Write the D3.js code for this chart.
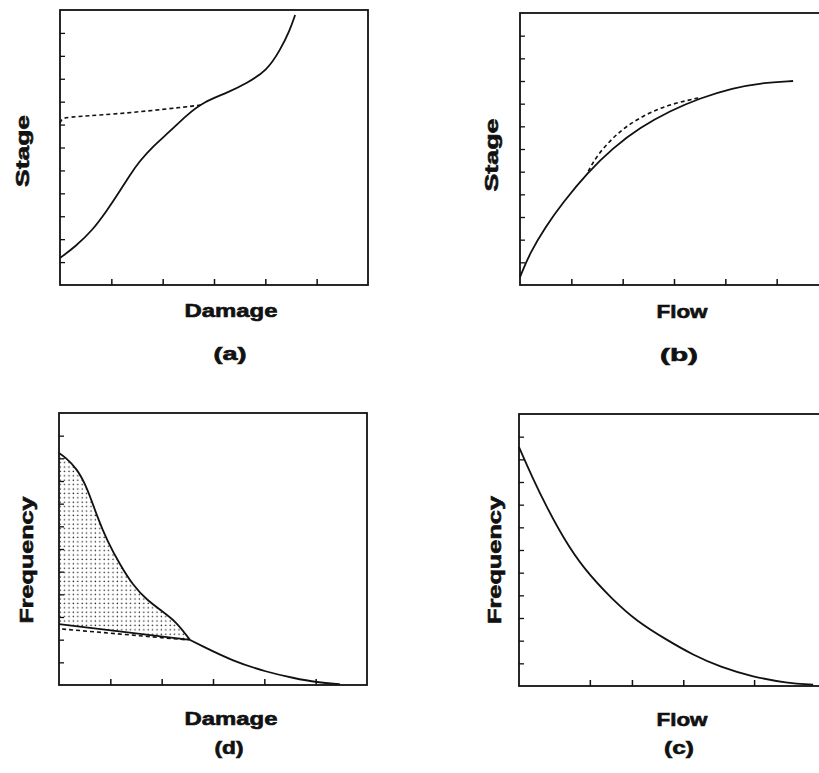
<!DOCTYPE html>
<html>
<head>
<meta charset="utf-8">
<script src="https://cdn.jsdelivr.net/npm/d3@7"></script>
<style>
  body { margin: 0; background: #fff; }
  svg { display: block; }
  .lbl { font-family: "Liberation Sans", Arial, sans-serif; font-weight: bold; font-size: 18px; fill: #111; stroke: #111; stroke-width: 0.6px; }
</style>
</head>
<body>
<div id="chart"></div>
<script>
// ---- data ----
// panel (a) stage-damage: [damage, stage]
const stageDamage = [[0,1.18],[0.29,1.66],[0.64,2.40],[0.92,3.27],[1.11,3.90],[1.36,4.80],[1.55,5.40],[1.81,6.05],[2.14,6.70],[2.47,7.42],[2.79,7.98],[3.25,8.38],[3.64,8.81],[4.03,9.35],[4.29,10.25],[4.48,11.13],[4.58,11.78]];
const stageDamageAlt = [[0,7.07],[0.04,7.28],[0.19,7.33],[1.36,7.50],[2.75,7.85]];

// panel (b) stage-flow rating curve: [flow, stage]
const stageFlow = [[0,0.35],[0.19,1.40],[0.49,2.55],[0.84,3.65],[1.31,4.94],[1.81,6.05],[2.34,6.95],[2.92,7.68],[3.51,8.25],[4.15,8.69],[4.68,8.91],[5.32,9.00]];
const stageFlowAlt = [[1.33,5.02],[1.50,5.72],[1.81,6.50],[2.08,7.02],[2.47,7.55],[2.86,7.92],[3.25,8.14],[3.51,8.27]];

// panel (c) flow-frequency: [flow, frequency]
const flowFreq = [[0,10.54],[0.27,9.15],[0.55,7.85],[0.86,6.55],[1.25,5.20],[1.83,3.79],[2.30,2.85],[2.88,2.03],[3.39,1.37],[3.92,0.84],[4.56,0.40],[5.22,0.13],[5.73,0.06]];

// panel (d) damage-frequency: [damage, frequency]
const damageFreqUpper = [[0,10.23],[0.12,10.05],[0.35,9.55],[0.55,8.70],[0.74,7.45],[0.94,6.35],[1.19,5.30],[1.44,4.40],[1.71,3.75],[2.03,3.22],[2.30,2.75],[2.55,1.99]];
const damageFreqTail = [[2.55,1.99],[2.75,1.76],[3.39,1.05],[4.05,0.57],[4.56,0.31],[5.03,0.11],[5.47,0.04]];
const damageFreqBase = [[0,2.69],[2.55,1.99]];
const damageFreqBaseAlt = [[0.06,2.47],[2.50,1.99]];

// ticks
const evenTicks = [1,2,3,4,5];
const flowTicksC = [1.38,2.20,3.20,4.58];
const yTicks = d3.range(1, 12);

const W = 819, H = 773;

const svg = d3.select("#chart").append("svg")
    .attr("width", W)
    .attr("height", H);

// dot screen for the shaded area
const pat = svg.append("defs").append("pattern")
    .attr("id", "dots")
    .attr("patternUnits", "userSpaceOnUse")
    .attr("width", 4.4)
    .attr("height", 4.4);
pat.append("circle").attr("cx", 1.2).attr("cy", 1.2).attr("r", 0.75).attr("fill", "#222");

// one panel: frame, inward ticks, axis labels
function makePanel(p) {
    let g = svg.append("g").attr("transform", `translate(${p.left},${p.top})`);

    let x = d3.scaleLinear().domain([0, 6]).range([0, p.w]);
    let y = d3.scaleLinear().domain([0, 12]).range([p.h, 0]);

    g.append("g")
        .attr("transform", `translate(0,${p.h})`)
        .call(d3.axisBottom(x).tickValues(p.xTicks).tickSize(-6).tickSizeOuter(0).tickFormat(""))
        .call(a => a.select(".domain").remove())
        .selectAll("line").attr("stroke", "#111").attr("stroke-width", 1.5);

    g.append("g")
        .call(d3.axisLeft(y).tickValues(yTicks).tickSize(-5).tickSizeOuter(0).tickFormat(""))
        .call(a => a.select(".domain").remove())
        .selectAll("line").attr("stroke", "#111").attr("stroke-width", 1.3);

    g.append("rect")
        .attr("width", p.w)
        .attr("height", p.h)
        .attr("fill", "none")
        .attr("stroke", "#111")
        .attr("stroke-width", 1.8);

    // y label, rotated
    svg.append("text")
        .attr("class", "lbl")
        .attr("transform", `translate(${p.yLab[0]},${p.yLab[1]}) rotate(-90)`)
        .attr("text-anchor", "middle")
        .attr("textLength", p.yLab[3])
        .attr("lengthAdjust", "spacingAndGlyphs")
        .text(p.yLab[2]);

    // x label + panel letter
    svg.append("text")
        .attr("class", "lbl")
        .attr("x", p.xLab[0]).attr("y", p.xLab[1])
        .attr("text-anchor", "middle")
        .attr("textLength", p.xLab[3])
        .attr("lengthAdjust", "spacingAndGlyphs")
        .text(p.xLab[2]);

    svg.append("text")
        .attr("class", "lbl")
        .attr("x", p.tag[0]).attr("y", p.tag[1])
        .attr("text-anchor", "middle")
        .attr("textLength", p.tag[3])
        .attr("lengthAdjust", "spacingAndGlyphs")
        .text(p.tag[2]);

    return {g: g, x: x, y: y};
}

function curve(panel, data, dashed) {
    let line = d3.line()
        .x(d => panel.x(d[0]))
        .y(d => panel.y(d[1]))
        .curve(d3.curveBasis);
    panel.g.append("path")
        .datum(data)
        .attr("d", line)
        .attr("fill", "none")
        .attr("stroke", "#111")
        .attr("stroke-width", dashed ? 1.6 : 1.8)
        .attr("stroke-dasharray", dashed ? "4,3" : null);
}

// (a)
let pa = makePanel({left: 60, top: 10, w: 308, h: 275, xTicks: evenTicks,
    yLab: [29, 151, "Stage", 72], xLab: [231, 317, "Damage", 93], tag: [230, 360, "(a)", 33]});
curve(pa, stageDamageAlt, true);
curve(pa, stageDamage, false);

// (b)
let pb = makePanel({left: 520, top: 13, w: 308, h: 272, xTicks: evenTicks,
    yLab: [498, 155, "Stage", 73], xLab: [682, 318, "Flow", 51], tag: [679, 361, "(b)", 38]});
curve(pb, stageFlowAlt, true);
curve(pb, stageFlow, false);

// (d)
let pd = makePanel({left: 59, top: 413, w: 308, h: 272, xTicks: evenTicks,
    yLab: [33, 560, "Frequency", 127], xLab: [231, 725, "Damage", 93], tag: [229, 754, "(d)", 29]});

// shaded band between the upper curve and the straight base line
let baseAt = d3.scaleLinear().domain(damageFreqBase.map(d => d[0])).range(damageFreqBase.map(d => d[1]));
let area = d3.area()
    .x(d => pd.x(d[0]))
    .y0(d => pd.y(baseAt(d[0])))
    .y1(d => pd.y(d[1]))
    .curve(d3.curveBasis);
pd.g.append("path")
    .datum(damageFreqUpper)
    .attr("d", area)
    .attr("fill", "url(#dots)");

curve(pd, damageFreqBaseAlt, true);
curve(pd, damageFreqBase, false);
curve(pd, damageFreqUpper, false);
curve(pd, damageFreqTail, false);

// (c)
let pc = makePanel({left: 519, top: 414, w: 308, h: 272, xTicks: flowTicksC,
    yLab: [501, 560, "Frequency", 128], xLab: [682, 726, "Flow", 51], tag: [679, 754, "(c)", 30]});
curve(pc, flowFreq, false);
</script>
</body>
</html>
